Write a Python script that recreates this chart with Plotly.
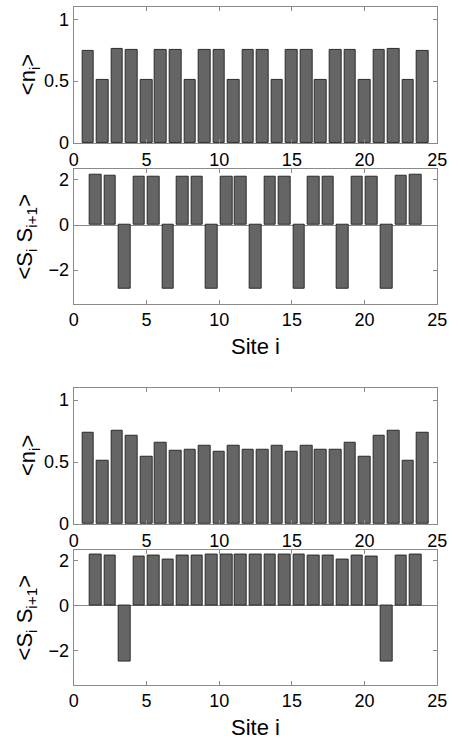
import plotly.graph_objects as go

# ---------------- data ----------------
sites = list(range(1, 25))
bonds = [i + 0.5 for i in range(1, 24)]

n_top = [0.742, 0.508, 0.76, 0.75, 0.513, 0.753, 0.75, 0.513, 0.75, 0.75, 0.513, 0.75,
         0.75, 0.513, 0.75, 0.75, 0.513, 0.75, 0.75, 0.513, 0.753, 0.76, 0.508, 0.742]
ss_top = [2.22, 2.19, -2.84, 2.14, 2.14, -2.84, 2.14, 2.14, -2.84, 2.14, 2.14, -2.84,
          2.14, 2.14, -2.84, 2.14, 2.14, -2.84, 2.14, 2.14, -2.84, 2.19, 2.22]

n_bot = [0.737, 0.508, 0.75, 0.713, 0.543, 0.655, 0.593, 0.601, 0.628, 0.58, 0.628, 0.601,
         0.601, 0.628, 0.58, 0.631, 0.601, 0.596, 0.655, 0.543, 0.713, 0.75, 0.508, 0.737]
ss_bot = [2.28, 2.22, -2.46, 2.18, 2.24, 2.07, 2.24, 2.24, 2.26, 2.28, 2.28, 2.28,
          2.28, 2.28, 2.26, 2.24, 2.24, 2.07, 2.24, 2.18, -2.48, 2.22, 2.28]

x_ticks = [0, 5, 10, 15, 20, 25]
n_ticks = [0, 0.5, 1]
n_tick_text = ["0", "0.5", "1"]
ss_ticks = [-2, 0, 2]
ss_tick_text = ["\u22122", "0", "2"]

ylabel_n = "&lt;n<sub>i</sub>&gt;"
ylabel_ss = "&lt;S<sub>i</sub> S<sub>i+1</sub>&gt;"
xlabel = "Site i"

# ---------------- layout geometry ----------------
W, H = 458, 750
x0, x1 = 71, 447
panels = [  # (top px, bottom px)
    (7, 145), (171, 308), (393, 531), (557, 694)
]

FONT = "Liberation Sans, Arial, Helvetica, sans-serif"
BAR = "#656565"
EDGE = "#2b2b2b"
FRAME = "#8a8a8a"
TICK_SIZE = 18

fig = go.Figure()

series = [(sites, n_top), (bonds, ss_top), (sites, n_bot), (bonds, ss_bot)]
for k, (xs, ys) in enumerate(series):
    sfx = "" if k == 0 else str(k + 1)
    fig.add_trace(go.Bar(
        x=xs, y=ys, width=0.8,
        marker=dict(color=BAR, line=dict(color=EDGE, width=1)),
        xaxis="x" + sfx, yaxis="y" + sfx, showlegend=False,
    ))

layout = dict(
    width=W, height=H, autosize=False,
    margin=dict(l=0, r=0, t=0, b=0),
    paper_bgcolor="white", plot_bgcolor="white",
    font=dict(family=FONT, size=TICK_SIZE, color="black"),
    bargap=0,
)

annotations = []
for k, (t, b) in enumerate(panels):
    sfx = "" if k == 0 else str(k + 1)
    is_n = k in (0, 2)
    ax = dict(
        domain=[x0 / W, x1 / W], range=[0, 25],
        tickvals=x_ticks, ticktext=[str(v) for v in x_ticks],
        ticks="inside", ticklen=4, tickcolor=FRAME, tickwidth=1,
        showline=True, linecolor=FRAME, linewidth=1, mirror="allticks",
        showgrid=False, zeroline=False,
        anchor="y" + sfx,
        tickfont=dict(size=TICK_SIZE, family=FONT, color="black"),
    )
    ay = dict(
        domain=[1 - b / H, 1 - t / H],
        range=[0, 1.1] if is_n else [-3.5, 2.5],
        tickvals=n_ticks if is_n else ss_ticks,
        ticktext=n_tick_text if is_n else ss_tick_text,
        ticks="inside", ticklen=4, tickcolor=FRAME, tickwidth=1,
        showline=True, linecolor=FRAME, linewidth=1, mirror="allticks",
        showgrid=False,
        zeroline=not is_n, zerolinecolor=FRAME, zerolinewidth=1,
        anchor="x" + sfx,
        tickfont=dict(size=TICK_SIZE, family=FONT, color="black"),
    )
    layout["xaxis" + sfx] = ax
    layout["yaxis" + sfx] = ay

    annotations.append(dict(
        text=ylabel_n if is_n else ylabel_ss,
        xref="paper", yref="paper",
        x=(25 if is_n else 22) / W, y=1 - ((t + b) / 2) / H,
        xanchor="center", yanchor="middle", textangle=-90,
        showarrow=False, font=dict(size=22, family=FONT, color="black"),
    ))
    if not is_n:
        annotations.append(dict(
            text=xlabel, xref="paper", yref="paper",
            x=((x0 + x1) / 2) / W, y=1 - (b + 43) / H,
            xanchor="center", yanchor="middle",
            showarrow=False, font=dict(size=22, family=FONT, color="black"),
        ))

layout["annotations"] = annotations
fig.update_layout(**layout)
fig.write_html("out.html")
